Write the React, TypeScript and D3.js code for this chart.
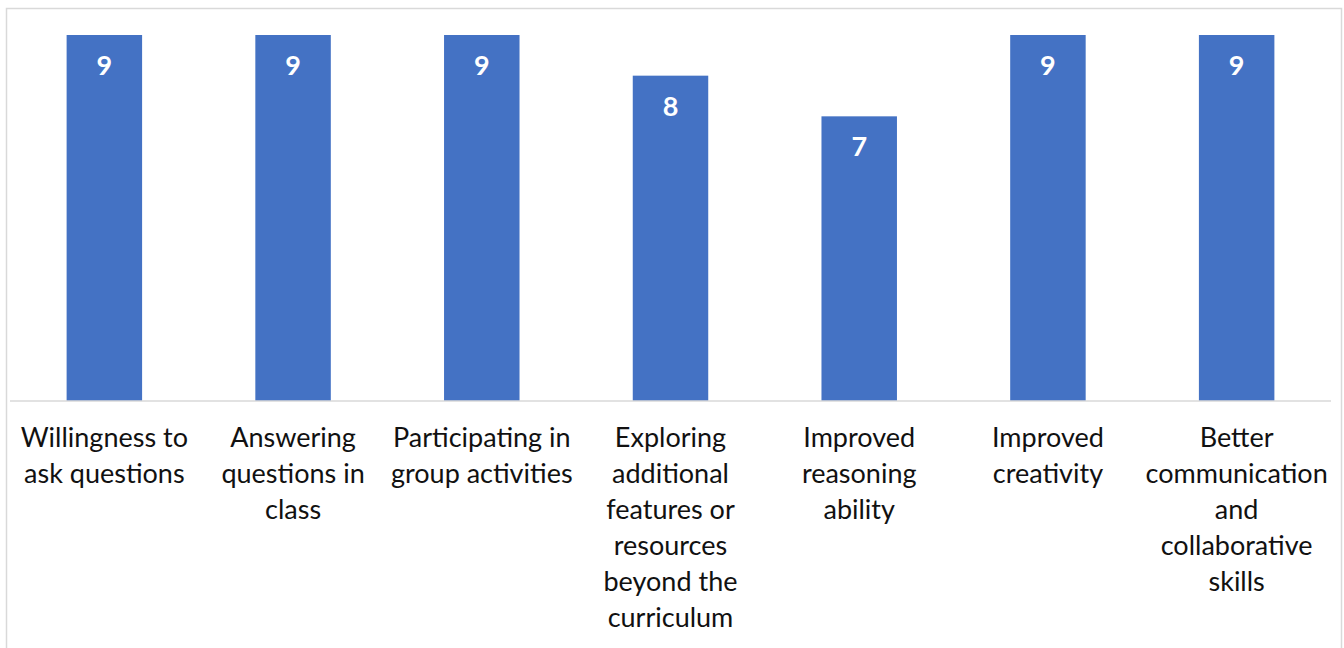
import React from "react";
import * as d3 from "d3";

const categories: string[][] = [
  ["Willingness to", "ask questions"],
  ["Answering", "questions in", "class"],
  ["Participating in", "group activities"],
  ["Exploring", "additional", "features or", "resources", "beyond the", "curriculum"],
  ["Improved", "reasoning", "ability"],
  ["Improved", "creativity"],
  ["Better", "communication", "and", "collaborative", "skills"],
];
const values: number[] = [9, 9, 9, 8, 7, 9, 9];

const W = 1344;
const H = 648;
const FONT = "Lato, 'Open Sans', sans-serif";

export default function App() {
  const keys = categories.map((_, i) => String(i));
  const x = d3
    .scaleBand<string>()
    .domain(keys)
    .range([10, 1331])
    .paddingInner(0.6)
    .paddingOuter(0.3);
  const y = d3.scaleLinear().domain([0, 9]).range([401, 35]);

  return (
    <svg
      width={W}
      height={H}
      style={{ position: "absolute", left: 0, top: 0, background: "#fff" }}
    >
      <rect x={6.5} y={8.5} width={1335} height={700} fill="#fff" stroke="#d9d9d9" strokeWidth={1.5} />
      {values.map((v, i) => (
        <g key={i}>
          <rect
            x={x(String(i))}
            y={y(v)}
            width={x.bandwidth()}
            height={y(0) - y(v)}
            fill="#4472c4"
          />
          <text
            x={(x(String(i)) as number) + x.bandwidth() / 2}
            y={y(v) + 40}
            textAnchor="middle"
            fill="#fff"
            fontFamily={FONT}
            fontWeight={700}
            fontSize={27}
          >
            {v}
          </text>
        </g>
      ))}
      <line x1={10} x2={1331} y1={401} y2={401} stroke="#d9d9d9" strokeWidth={1.5} />
      {categories.map((lines, i) => (
        <text
          key={i}
          x={(x(String(i)) as number) + x.bandwidth() / 2}
          y={447}
          textAnchor="middle"
          fill="#111"
          fontFamily={FONT}
          fontSize={27}
        >
          {lines.map((l, j) => (
            <tspan key={j} x={(x(String(i)) as number) + x.bandwidth() / 2} dy={j === 0 ? 0 : 36}>
              {l}
            </tspan>
          ))}
        </text>
      ))}
    </svg>
  );
}
